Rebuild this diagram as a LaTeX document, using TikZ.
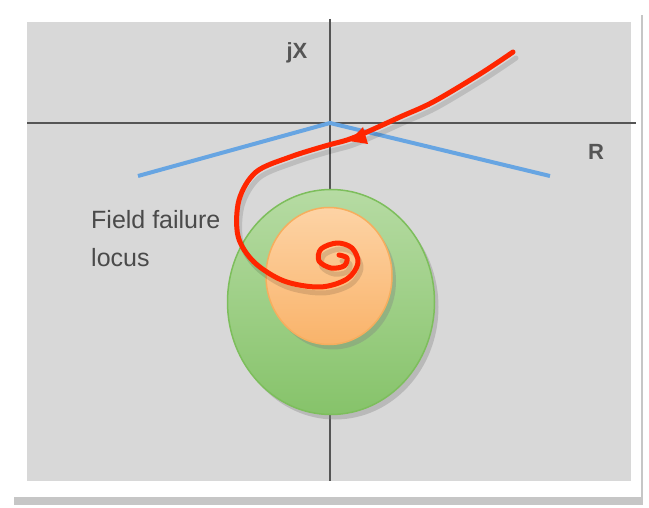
\documentclass[tikz,border=0pt]{standalone}
\usepackage{fontspec}
\setmainfont{Liberation Sans}
\usetikzlibrary{shapes.geometric,shadows}

\definecolor{bggray}{HTML}{D8D8D8}
\definecolor{axisgray}{HTML}{555555}
\definecolor{limitblue}{HTML}{67A5E2}
\definecolor{greenedge}{HTML}{7DBE5C}
\definecolor{greentop}{HTML}{B6DBA3}
\definecolor{greenbot}{HTML}{86C36A}
\definecolor{orangeedge}{HTML}{F6AE5E}
\definecolor{orangetop}{HTML}{FDD3A5}
\definecolor{orangebot}{HTML}{F9B36A}
\definecolor{tracered}{HTML}{FF2600}
\definecolor{labelgray}{HTML}{4A4A4A}

\begin{document}
\begin{tikzpicture}[x=1pt,y=-1pt,
  axis/.style={draw=axisgray, line width=1.6pt},
  limit/.style={draw=limitblue, line width=4pt},
  zone/.style={ellipse, line width=1.5pt, inner sep=0pt},
  axislabel/.style={text=axisgray, font=\fontsize{22}{26}\selectfont\bfseries},
  trace/.style={draw=tracered, line width=5pt, line cap=round, line join=round}]
  \useasboundingbox (0,0) rectangle (649,508);
  \def\ox{330}
  \def\oy{123}
  % frame and plane
  \fill[white, drop shadow={shadow xshift=2pt, shadow yshift=-8pt, opacity=0.45}]
    (12,7) rectangle (641,497);
  \fill[bggray] (27,22) rectangle (631,481);
  \coordinate (O) at (\ox,\oy);
  \draw[axis] (27,\oy) -- (636,\oy);
  \draw[axis] (\ox,19) -- (\ox,481);
  \node[axislabel, anchor=base] (jx) at (297,59) {jX};
  \node[axislabel, anchor=base] (r) at (596,160) {R};
  % relay characteristic
  \draw[limit] (138,176) -- (O) -- (550,176);
  % zones
  \node[zone, draw=greenedge, top color=greentop, bottom color=greenbot,
    minimum width=207, minimum height=225,
    drop shadow={shadow xshift=4pt, shadow yshift=-5pt, opacity=0.35}] (outer) at (331,302) {};
  \node[zone, draw=orangeedge, top color=orangetop, bottom color=orangebot,
    minimum width=126, minimum height=137,
    drop shadow={shadow xshift=4pt, shadow yshift=-5pt, opacity=0.35}] (inner) at (329,276) {};
  \node[anchor=north west, inner sep=0pt, align=left, text=labelgray,
    font=\fontsize{25}{38}\selectfont] (locus) at (91,210) {Field failure\\locus};
  % impedance trajectory
  \def\trajectory{(513,52) (480,74) (433,102) (400,117) (367,132) (347,140) (325,146)
    (290,157) (256,172) (239,200) (238,236) (254,262) (284,281) (320,287) (347,279)
    (358,263) (352,248) (337,243) (321,249) (319,261) (331,268) (344,266) (347,258) (339,255)}
  \draw[trace, draw=black, opacity=0.12, shift={(3,6)}] plot[smooth, tension=0.55] coordinates {\trajectory};
  \fill[tracered] (363,127) -- (368,144) -- (349,141) -- cycle;
  \draw[trace] plot[smooth, tension=0.55] coordinates {\trajectory};
\end{tikzpicture}
\end{document}
